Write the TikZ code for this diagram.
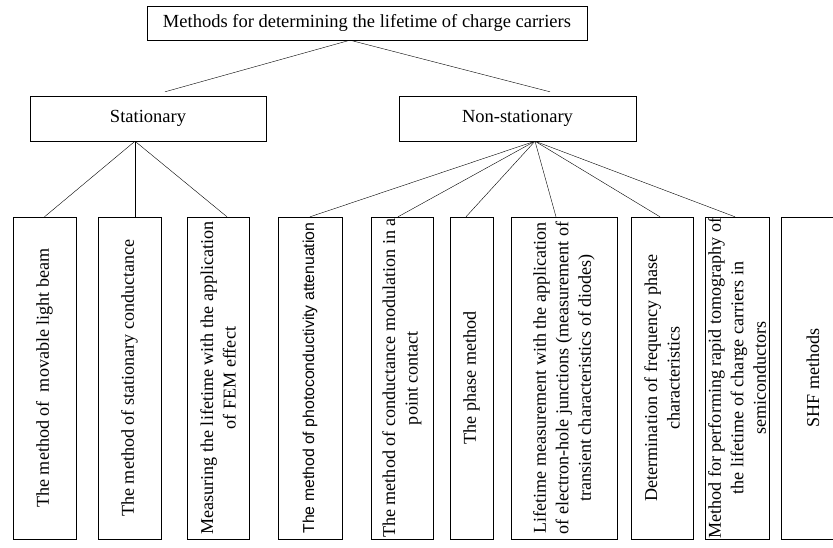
\documentclass[tikz,border=0pt]{standalone}
\usepackage{fontspec}
\setmainfont{Liberation Serif}
\newfontfamily\arialfont{Liberation Sans}
\usepackage{tikz}

\begin{document}
\begin{tikzpicture}[x=1pt,y=-1pt,
  head/.style={draw,rectangle,inner sep=0pt,font=\fontsize{18.5}{21}\selectfont},
  leaf/.style={draw,rectangle,inner sep=0pt,rotate=90,minimum width=322pt,align=center,font=\fontsize{18.1}{22.5}\selectfont}]
\useasboundingbox (0,0) rectangle (833,547);

\node[head,minimum width=440pt,minimum height=34pt] (0) at (367,23) {Methods for determining the lifetime of charge carriers};

\node[head,minimum width=236pt,minimum height=45pt] (1) at (148,118.5) {Stationary};

\node[head,minimum width=237pt,minimum height=45pt] (2) at (517.5,118.5) {Non-stationary};

\node[leaf,minimum height=63pt] (11) at (44.5,378) {The method of\ \ movable light beam};

\node[leaf,minimum height=63pt] (12) at (129.5,378) {The method of stationary conductance};

\node[leaf,minimum height=62pt] (13) at (218,378) {Measuring the lifetime with the application\\of FEM effect};

\node[leaf,minimum height=64pt,font=\arialfont\fontsize{15.8}{18}\selectfont] (21) at (310,378) {The method of photoconductivity attenuation};

\node[leaf,minimum height=62pt] (22) at (402,378) {The method of conductance modulation in a\\point contact};

\node[leaf,minimum height=43pt] (23) at (471.5,378) {The phase method};

\node[leaf,minimum height=106pt] (24) at (564,378) {Lifetime measurement with the application\\of electron-hole junctions (measurement of\\transient characteristics of diodes)};

\node[leaf,minimum height=62pt] (25) at (662,378) {Determination of frequency phase\\characteristics};

\node[leaf,minimum height=64pt] (26) at (737,378) {Method for performing rapid tomography of\\the lifetime of charge carriers in\\semiconductors};

\node[leaf,minimum height=64pt] (27) at (813,378) {SHF methods};

\draw ([xshift=-17pt]0.south) -- ([xshift=17pt,yshift=4pt]1.north);
\draw ([xshift=-17pt]0.south) -- ([xshift=32.5pt,yshift=4pt]2.north);

\draw ([xshift=-13pt]1.south) -- (11.east);
\draw ([xshift=-13pt]1.south) -- ([xshift=5.5pt]12.east);
\draw ([xshift=-13pt]1.south) -- ([xshift=9pt]13.east);

\draw ([xshift=17.5pt]2.south) -- (21.east);
\draw ([xshift=17.5pt]2.south) -- ([xshift=-4pt]22.east);
\draw ([xshift=17.5pt]2.south) -- ([xshift=-5.5pt]23.east);
\draw ([xshift=17.5pt]2.south) -- ([xshift=-8pt]24.east);
\draw ([xshift=17.5pt]2.south) -- ([xshift=-2pt]25.east);
\draw ([xshift=17.5pt]2.south) -- ([xshift=-2pt]26.east);
\end{tikzpicture}
\end{document}
